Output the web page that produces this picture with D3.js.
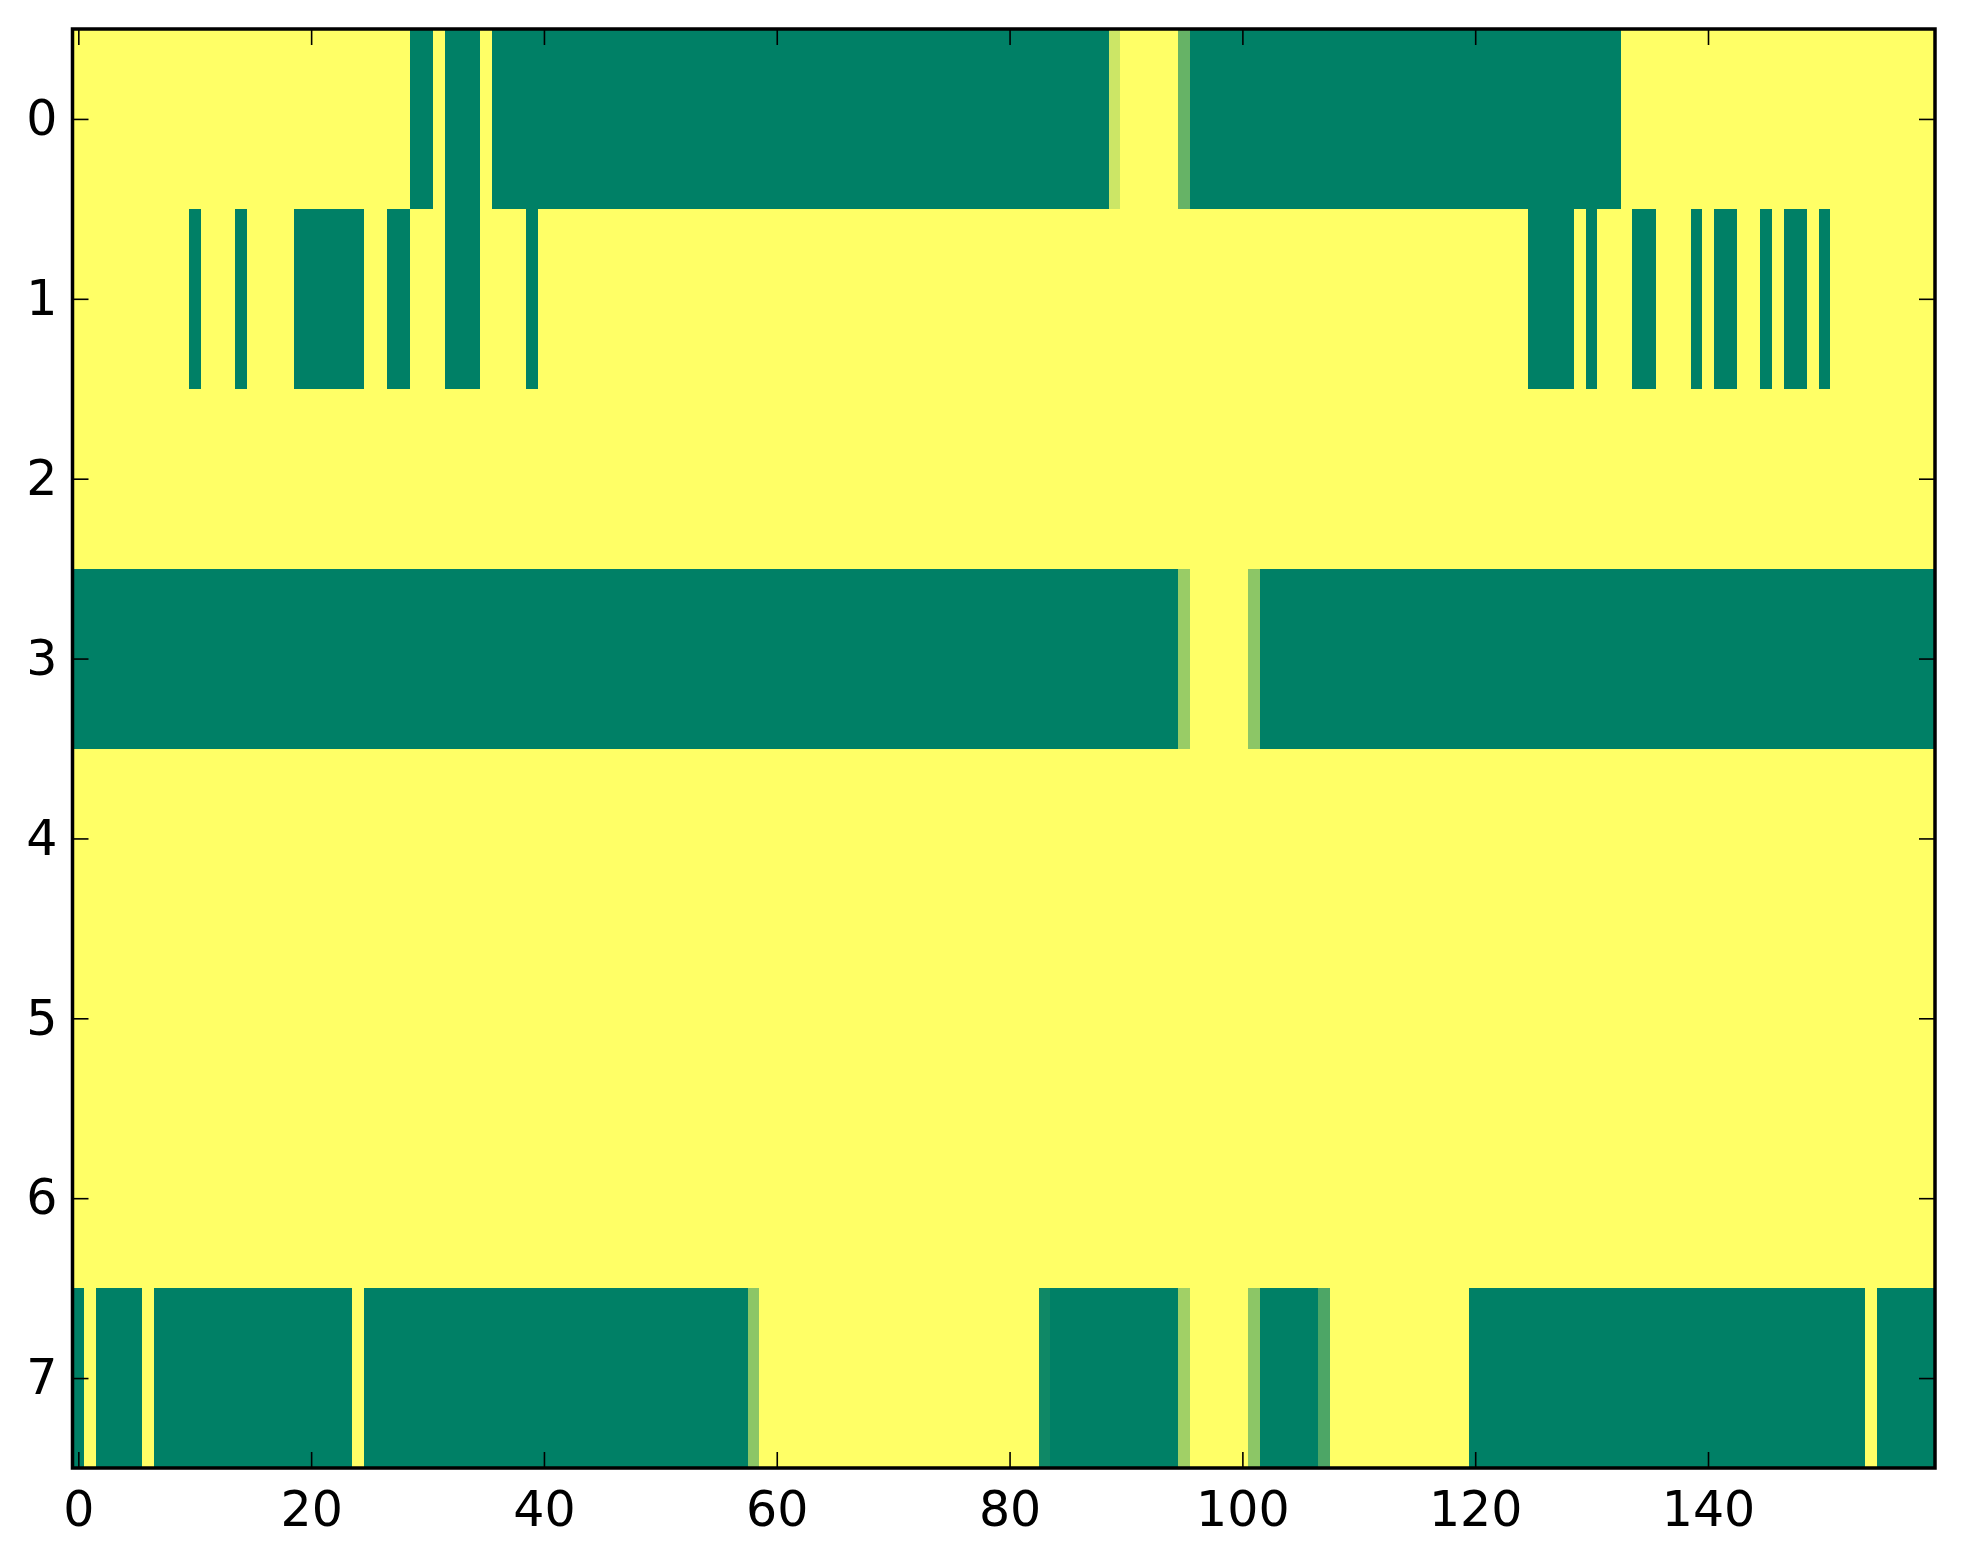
<!DOCTYPE html>
<html>
<head>
<meta charset="utf-8">
<script src="https://cdn.jsdelivr.net/npm/d3@7"></script>
<style>
  body { margin: 0; background: #fff; }
  text { font-family: "DejaVu Sans", sans-serif; }
</style>
</head>
<body>
<svg id="chart" width="1963" height="1564"></svg>
<script>
// runs per row: [firstColumn, lastColumn, value]  (value 0 = green, 1 = yellow)
var row0 = [[0,28,1],[29,30,0],[31,31,1],[32,34,0],[35,35,1],[36,88,0],[89,89,0.8],[90,94,1],[95,95,0.4],[96,132,0],[133,159,1]];
var row1 = [[0,9,1],[10,10,0],[11,13,1],[14,14,0],[15,18,1],[19,24,0],[25,26,1],[27,28,0],[29,31,1],[32,34,0],
            [35,38,1],[39,39,0],[40,124,1],[125,128,0],[129,129,1],[130,130,0],[131,133,1],[134,135,0],[136,138,1],
            [139,139,0],[140,140,1],[141,142,0],[143,144,1],[145,145,0],[146,146,1],[147,148,0],[149,149,1],[150,150,0],[151,159,1]];
var row2 = [[0,159,1]];
var row3 = [[0,94,0],[95,95,0.6],[96,100,1],[101,101,0.55],[102,159,0]];
var row4 = [[0,159,1]];
var row5 = [[0,159,1]];
var row6 = [[0,159,1]];
var row7 = [[0,0,0],[1,1,1],[2,5,0],[6,6,1],[7,23,0],[24,24,1],[25,57,0],[58,58,0.55],[59,82,1],[83,83,0.06],
            [84,94,0],[95,95,0.63],[96,100,1],[101,101,0.55],[102,106,0],[107,107,0.3],[108,119,1],[120,153,0],
            [154,154,1],[155,159,0]];
var rows = [row0, row1, row2, row3, row4, row5, row6, row7];

var nCols = 160;
var xTicks = [0, 20, 40, 60, 80, 100, 120, 140];
var yTicks = [0, 1, 2, 3, 4, 5, 6, 7];

var box = { left: 72.5, right: 1935, top: 29, bottom: 1468 };

var svg = d3.select('#chart');

var x = d3.scaleLinear().domain([-0.5, nCols - 0.5]).range([box.left, box.right]);
var y = d3.scaleLinear().domain([-0.5, rows.length - 0.5]).range([box.top, box.bottom]);
// matplotlib "summer"
var color = d3.scaleLinear().domain([0, 1]).range(['#008066', '#ffff66']);

var cells = [];
rows.forEach((runs, r) => {
    runs.forEach(run => cells.push({ row: r, from: run[0], to: run[1], value: run[2] }));
});

svg.append('g')
    .selectAll('rect')
    .data(cells)
    .enter().append('rect')
    .attr('x', d => x(d.from - 0.5))
    .attr('width', d => x(d.to + 0.5) - x(d.from - 0.5))
    .attr('y', d => y(d.row - 0.5))
    .attr('height', d => y(d.row + 0.5) - y(d.row - 0.5))
    .attr('fill', d => color(d.value))
    .attr('shape-rendering', 'crispEdges');

function styleAxis(g) {
    g.select('.domain').remove();
    g.selectAll('.tick line').attr('stroke', '#000').attr('stroke-width', 1.6);
    g.selectAll('.tick text').attr('fill', '#000').style('font-size', '49px')
        .style('font-family', '"DejaVu Sans", sans-serif');
}

// ticks point inward on all four sides
svg.append('g')
    .attr('transform', `translate(0,${box.bottom})`)
    .call(d3.axisBottom(x).tickValues(xTicks).tickSize(-16).tickPadding(23).tickFormat(d3.format('d')))
    .call(styleAxis);

svg.append('g')
    .attr('transform', `translate(0,${box.top})`)
    .call(d3.axisTop(x).tickValues(xTicks).tickSize(-16).tickFormat(''))
    .call(styleAxis);

svg.append('g')
    .attr('transform', `translate(${box.left},0)`)
    .call(d3.axisLeft(y).tickValues(yTicks).tickSize(-16).tickPadding(15).tickFormat(d3.format('d')))
    .call(styleAxis);

svg.append('g')
    .attr('transform', `translate(${box.right},0)`)
    .call(d3.axisRight(y).tickValues(yTicks).tickSize(-16).tickFormat(''))
    .call(styleAxis);

// frame
svg.append('rect')
    .attr('x', box.left)
    .attr('y', box.top)
    .attr('width', box.right - box.left)
    .attr('height', box.bottom - box.top)
    .attr('fill', 'none')
    .attr('stroke', '#000')
    .attr('stroke-width', 3.5);
</script>
</body>
</html>
